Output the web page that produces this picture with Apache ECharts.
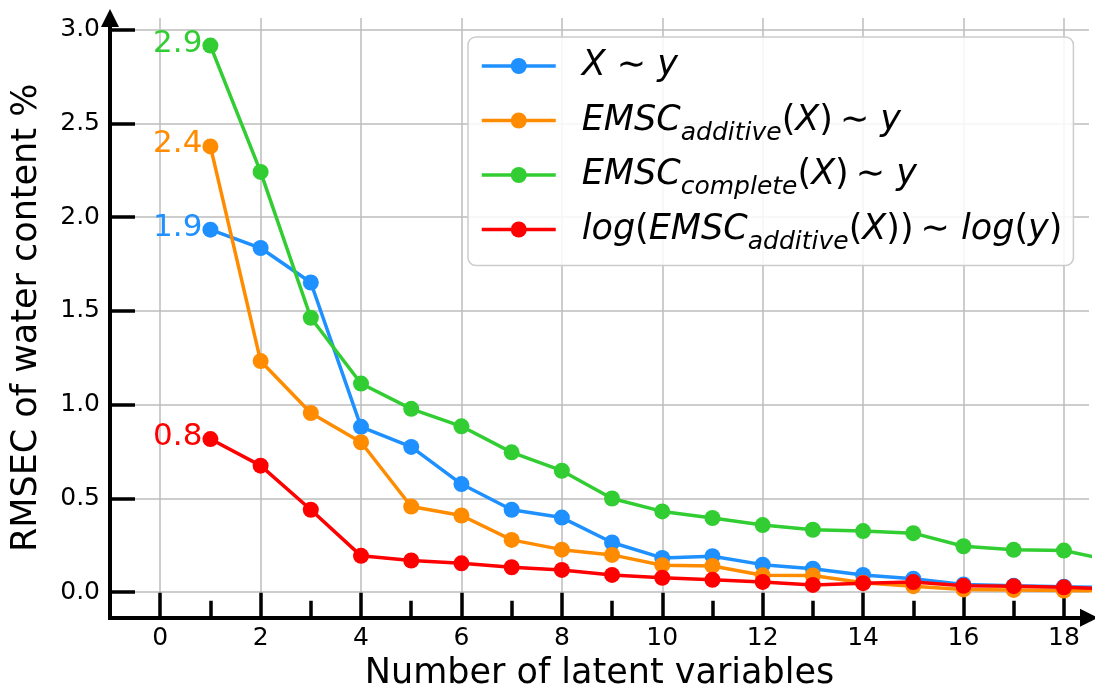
<!DOCTYPE html>
<html>
<head>
<meta charset="utf-8">
<script src="https://cdn.jsdelivr.net/npm/echarts@6/dist/echarts.min.js"></script>
<style>
  html, body { margin: 0; padding: 0; background: #ffffff; }
  #chart { width: 1095px; height: 695px; }
</style>
</head>
<body>
<div id="chart"></div>
<script>
// Number of latent variables in the PLS model
const latentVariables = [1, 2, 3, 4, 5, 6, 7, 8, 9, 10, 11, 12, 13, 14, 15, 16, 17, 18, 19];

// RMSEC of water content (%) for each preprocessing variant
const rmsecRaw         = [1.933, 1.835, 1.651, 0.881, 0.774, 0.576, 0.439, 0.397, 0.264, 0.182, 0.191, 0.146, 0.124, 0.091, 0.071, 0.040, 0.033, 0.028, 0.024];
const rmsecAdditive    = [2.377, 1.232, 0.955, 0.799, 0.456, 0.408, 0.278, 0.226, 0.198, 0.143, 0.139, 0.089, 0.088, 0.050, 0.031, 0.014, 0.011, 0.008, 0.006];
const rmsecComplete    = [2.915, 2.241, 1.463, 1.112, 0.977, 0.884, 0.745, 0.647, 0.499, 0.430, 0.395, 0.357, 0.332, 0.325, 0.314, 0.244, 0.225, 0.221, 0.165];
const rmsecLogAdditive = [0.816, 0.674, 0.439, 0.193, 0.168, 0.153, 0.132, 0.118, 0.091, 0.076, 0.065, 0.054, 0.038, 0.047, 0.053, 0.033, 0.031, 0.025, 0.017];

// Tick positions and labels
const xMajorTicks = [0, 2, 4, 6, 8, 10, 12, 14, 16, 18];
const xMinorTicks = [1, 3, 5, 7, 9, 11, 13, 15, 17];
const yTicks = [0, 0.5, 1.0, 1.5, 2.0, 2.5, 3.0];

const seriesNames = [
  'X ~ y',
  'EMSC_additive(X) ~ y',
  'EMSC_complete(X) ~ y',
  'log(EMSC_additive(X)) ~ log(y)'
];
// Legend entries typeset with italic symbols and subscripts
const legendLabels = [
  '{i|X}{r| \u223C }{i|y}{s|\u200a}',
  '{i|EMSC}{s|additive}{r|(}{i|X}{r|)\u2009\u223C }{i|y}',
  '{i|EMSC}{s|complete}{r|(}{i|X}{r|)\u2009\u223C }{i|y}',
  '{i|log}{r|(}{i|EMSC}{s|additive}{r|(}{i|X}{r|))\u2009\u223C }{i|log}{r|(}{i|y}{r|)}'
];
const seriesColors = ['#1e90ff', '#ff8c00', '#32cd32', '#ff0000'];
const seriesValues = [rmsecRaw, rmsecAdditive, rmsecComplete, rmsecLogAdditive];

const FONT = 'DejaVu Sans';
const axisLineStyle = { color: '#000000', width: 4, cap: 'square' };
const tickLineStyle = { color: '#000000', width: 3.5 };
const gridLineStyle = { color: '#bdbdbd', width: 1.5 };

function buildSeries(idx) {
  const color = seriesColors[idx];
  const values = seriesValues[idx];
  const data = latentVariables.map(function (lv, i) {
    const item = { value: [lv, values[i]] };
    if (i === 0) item.label = { show: true };
    return item;
  });
  return {
    type: 'line',
    name: seriesNames[idx],
    data: data,
    symbol: 'circle',
    symbolSize: 16,
    color: color,
    itemStyle: { color: color },
    lineStyle: { color: color, width: 3.5 },
    clip: true,
    z: 2 + idx,
    emphasis: { disabled: true },
    label: {
      show: false,
      position: 'left',
      distance: 0,
      offset: [0, -2],
      fontSize: 31,
      fontFamily: FONT,
      color: color,
      formatter: function (p) { return p.value[1].toFixed(1); }
    }
  };
}

const chart = echarts.init(document.getElementById('chart'), null, { renderer: 'canvas' });

chart.setOption({
  animation: false,
  backgroundColor: '#ffffff',
  textStyle: { fontFamily: FONT, color: '#000000' },
  grid: {
    left: 110, right: 6, top: 18, bottom: 77.3,
    containLabel: false,
    outerBoundsMode: 'none'
  },
  legend: {
    orient: 'vertical',
    left: 468,
    top: 37,
    data: seriesNames,
    itemWidth: 74,
    itemHeight: 20,
    itemGap: 4.5,
    padding: [4, 11, 11, 12],
    backgroundColor: 'rgba(255,255,255,0.85)',
    borderColor: '#cccccc',
    borderWidth: 1.5,
    borderRadius: 8,
    selectedMode: false,
    lineStyle: { width: 3.5 },
    formatter: function (name) { return legendLabels[seriesNames.indexOf(name)]; },
    textStyle: {
      padding: [0, 0, 0, 21],
      fontSize: 35,
      fontFamily: FONT,
      color: '#000000',
      lineHeight: 50,
      rich: {
        i: { fontSize: 35, fontStyle: 'italic', fontFamily: FONT, lineHeight: 50, color: '#000000' },
        r: { fontSize: 35, fontFamily: FONT, lineHeight: 50, color: '#000000' },
        s: { fontSize: 25, fontStyle: 'italic', fontFamily: FONT, lineHeight: 25, padding: [25, 0, 0, 0], color: '#000000' }
      }
    }
  },
  xAxis: [
    {
      type: 'value',
      min: -1,
      max: 18.5,
      name: 'Number of latent variables',
      nameLocation: 'middle',
      nameGap: 39,
      nameTextStyle: { fontSize: 35, fontFamily: FONT, color: '#000000' },
      axisLine: {
        show: true, onZero: false,
        symbol: ['none', 'triangle'], symbolSize: [18, 18],
        lineStyle: axisLineStyle
      },
      axisTick: { show: true, inside: true, length: 25, customValues: xMajorTicks, lineStyle: tickLineStyle },
      axisLabel: { show: true, customValues: xMajorTicks, fontSize: 25, fontFamily: FONT, color: '#000000', margin: 8 },
      splitLine: { show: true, lineStyle: gridLineStyle }
    },
    {
      type: 'value',
      min: -1,
      max: 18.5,
      position: 'bottom',
      axisLine: { show: false, onZero: false },
      axisTick: { show: true, inside: true, length: 17, customValues: xMinorTicks, lineStyle: tickLineStyle },
      axisLabel: { show: false },
      splitLine: { show: false }
    }
  ],
  yAxis: {
    type: 'value',
    min: -0.137,
    max: 3.062,
    name: 'RMSEC of water content %',
    nameLocation: 'middle',
    nameGap: 66,
    nameTextStyle: { fontSize: 35, fontFamily: FONT, color: '#000000' },
    axisLine: {
      show: true, onZero: false,
      symbol: ['none', 'triangle'], symbolSize: [18, 18],
      lineStyle: axisLineStyle
    },
    axisTick: { show: true, inside: true, length: 25, customValues: yTicks, lineStyle: tickLineStyle },
    axisLabel: {
      show: true, customValues: yTicks, fontSize: 25, fontFamily: FONT, color: '#000000', margin: 10,
      formatter: function (v) { return v.toFixed(1); }
    },
    splitLine: { show: true, lineStyle: gridLineStyle }
  },
  series: [buildSeries(0), buildSeries(1), buildSeries(2), buildSeries(3)]
});
</script>
</body>
</html>
